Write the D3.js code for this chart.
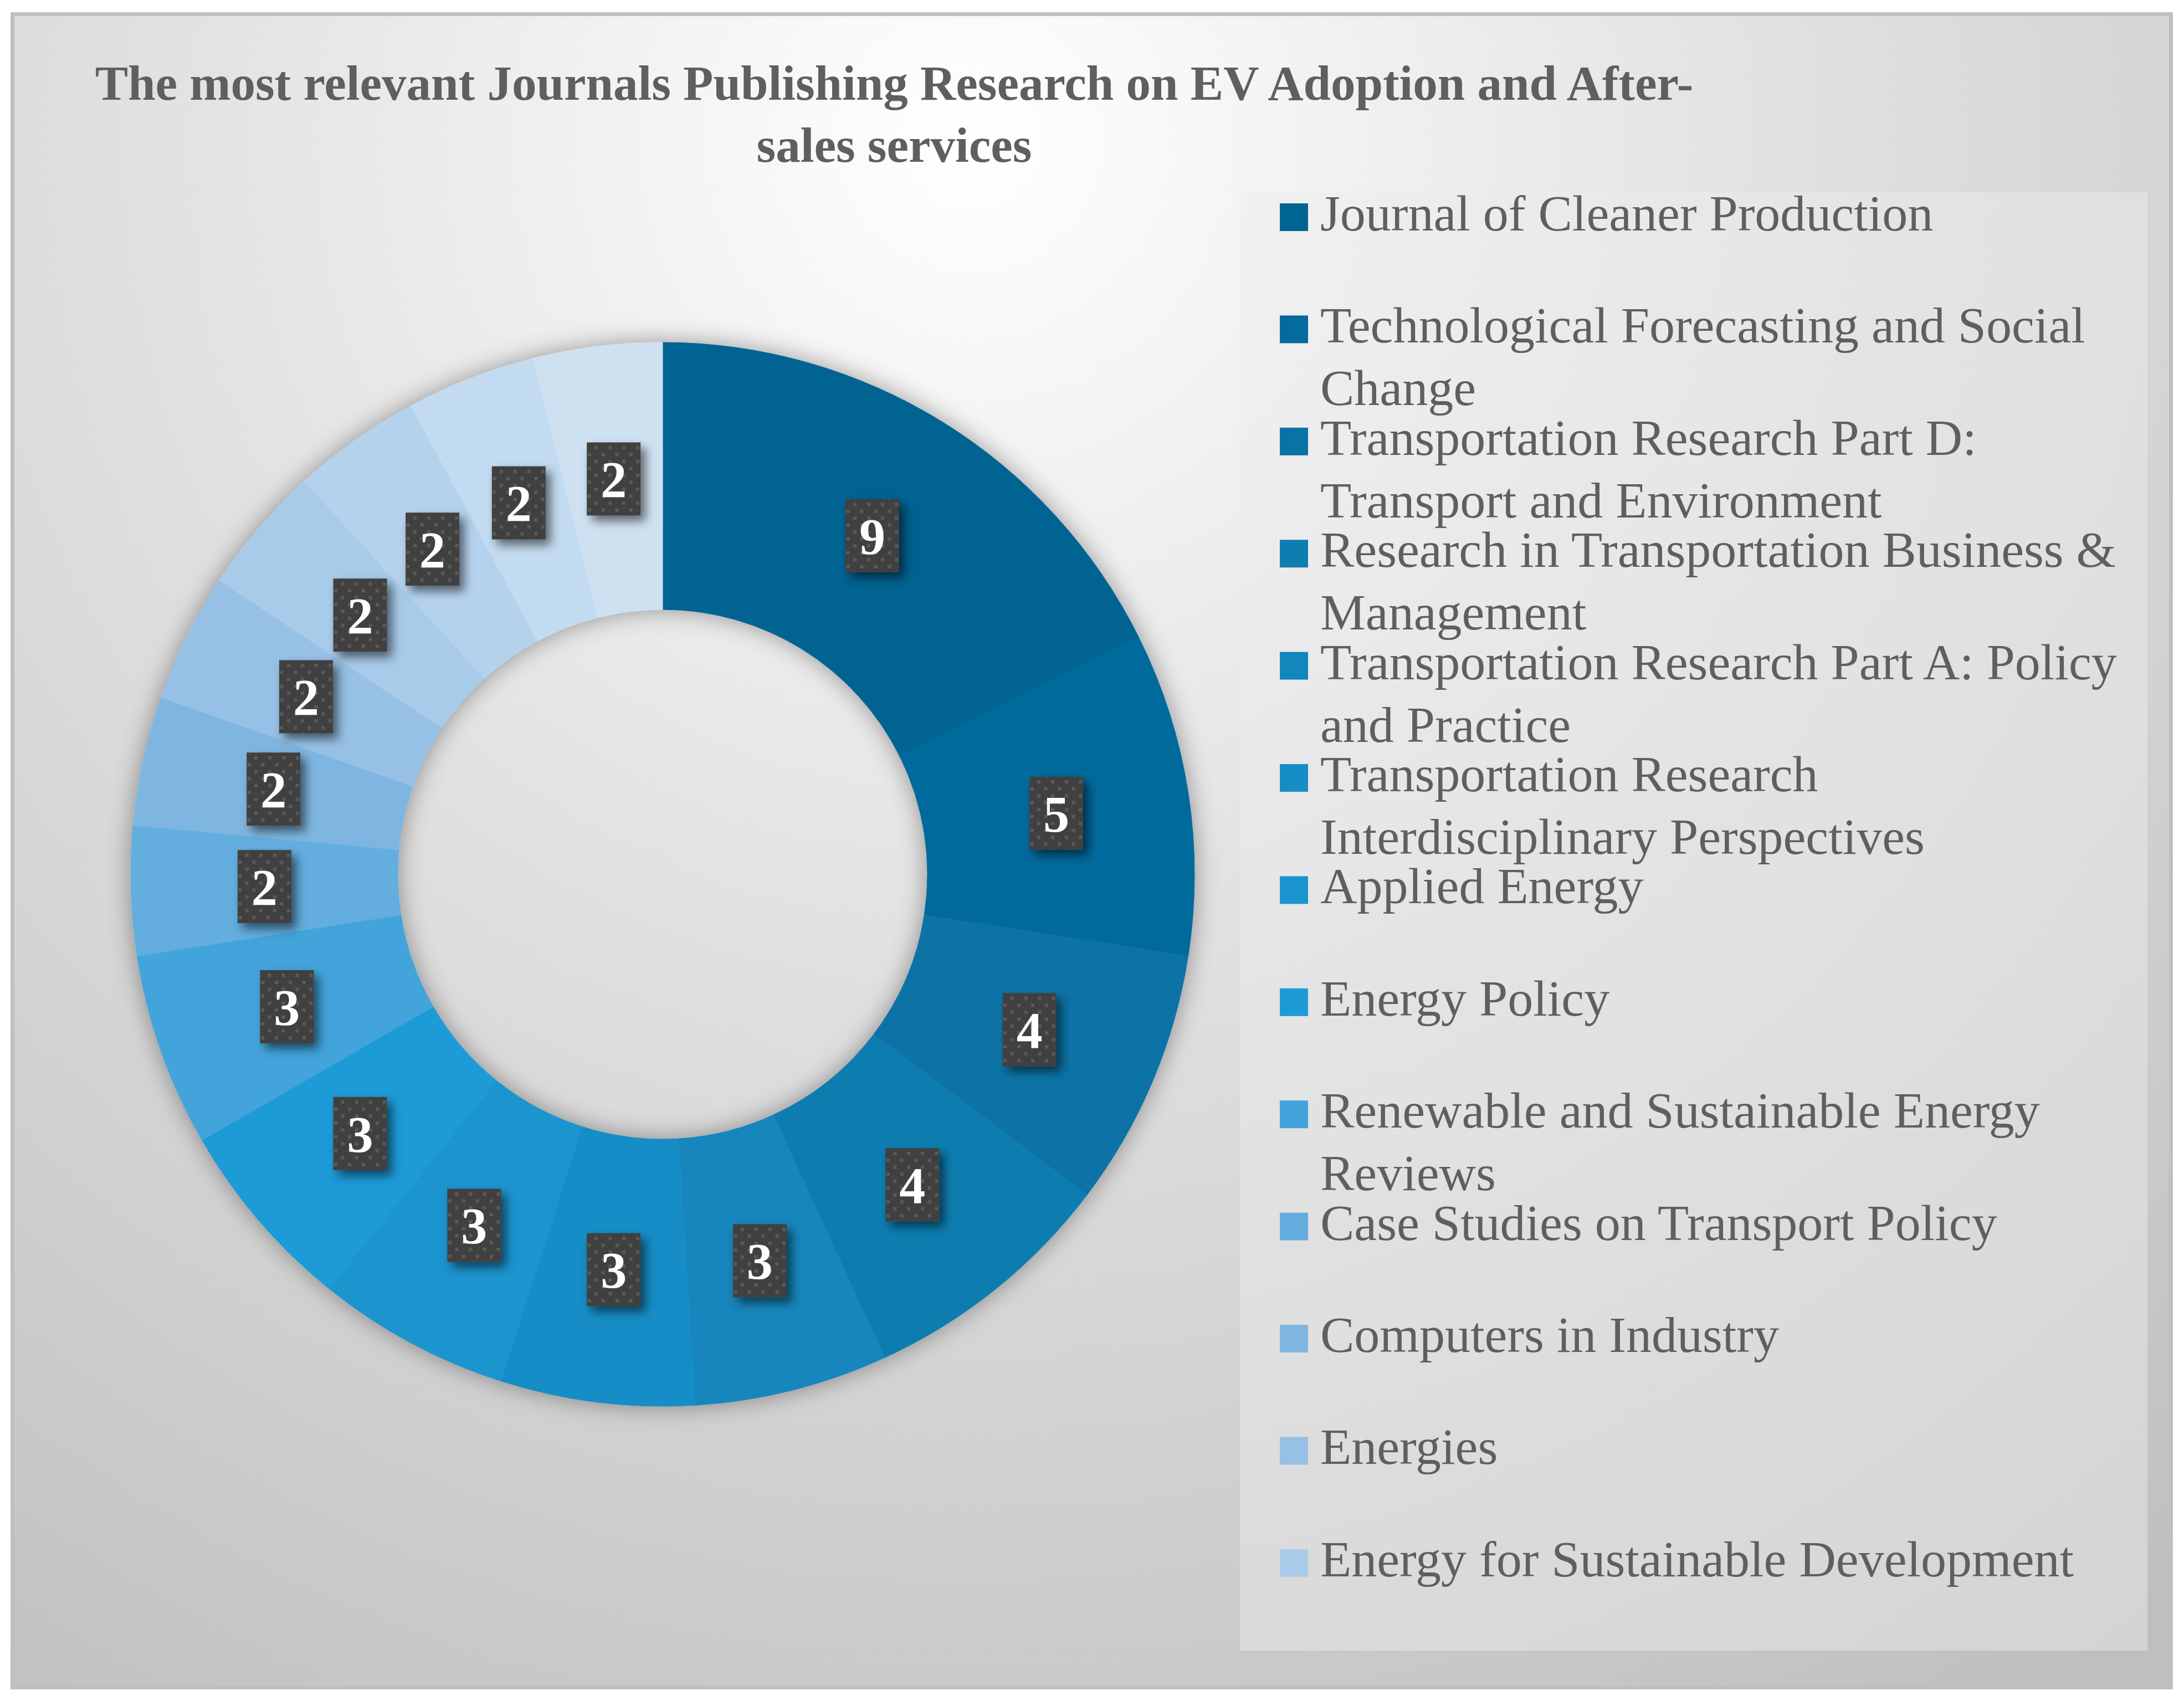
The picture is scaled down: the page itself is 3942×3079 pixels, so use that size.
<!DOCTYPE html>
<html>
<head>
<meta charset="utf-8">
<script src="https://cdn.jsdelivr.net/npm/d3@7"></script>
<style>
  html, body { margin: 0; padding: 0; background: #ffffff; }
  svg { display: block; }
</style>
</head>
<body>
<div id="chart"></div>
<script>
// journals, in the order they appear in the donut (clockwise from 12 o'clock)
// the source legend is cut off after 13 entries, so the last three slices have no name shown
const categories = [
  "Journal of Cleaner Production",
  "Technological Forecasting and Social Change",
  "Transportation Research Part D: Transport and Environment",
  "Research in Transportation Business & Management",
  "Transportation Research Part A: Policy and Practice",
  "Transportation Research Interdisciplinary Perspectives",
  "Applied Energy",
  "Energy Policy",
  "Renewable and Sustainable Energy Reviews",
  "Case Studies on Transport Policy",
  "Computers in Industry",
  "Energies",
  "Energy for Sustainable Development"
]
const values = [9, 5, 4, 4, 3, 3, 3, 3, 3, 2, 2, 2, 2, 2, 2, 2]
const colors = [
  "#006491", "#056a9c", "#0a73a6", "#107db0", "#1386bc", "#178dc6",
  "#1a94ce", "#1e9bd7", "#42a4db", "#63aedf", "#7eb6e1", "#96c0e5",
  "#a8cbea", "#b5d2ec", "#c3dbf0", "#cfe1f1"
]
const titleLines = [
  "The most relevant Journals Publishing Research on EV Adoption and After-",
  "sales services"
]

const WIDTH = 3942
const HEIGHT = 3079
const FONT = "'Liberation Serif', 'DejaVu Serif', serif"
const TEXT_COLOR = "#5f5f5f"

const svg = d3.select("#chart").append("svg")
  .attr("width", WIDTH)
  .attr("height", HEIGHT)

const defs = svg.append("defs")

const bg = defs.append("radialGradient")
  .attr("id", "bg")
  .attr("gradientUnits", "userSpaceOnUse")
  .attr("cx", 1750).attr("cy", 250).attr("r", 3400)
bg.append("stop").attr("offset", 0).attr("stop-color", "#ffffff")
bg.append("stop").attr("offset", 0.45).attr("stop-color", "#e0e0e0")
bg.append("stop").attr("offset", 1).attr("stop-color", "#bfbfbf")

const ringShadow = defs.append("filter")
  .attr("id", "ringShadow")
  .attr("x", "-20%").attr("y", "-20%").attr("width", "140%").attr("height", "140%")
ringShadow.append("feDropShadow")
  .attr("dx", 0).attr("dy", 0)
  .attr("stdDeviation", 22)
  .attr("flood-color", "#000")
  .attr("flood-opacity", 0.38)

const boxShadow = defs.append("filter")
  .attr("id", "boxShadow")
  .attr("x", "-50%").attr("y", "-50%").attr("width", "200%").attr("height", "200%")
boxShadow.append("feDropShadow")
  .attr("dx", 9).attr("dy", 10)
  .attr("stdDeviation", 9)
  .attr("flood-color", "#000")
  .attr("flood-opacity", 0.55)

const dots = defs.append("pattern")
  .attr("id", "dots")
  .attr("patternUnits", "userSpaceOnUse")
  .attr("width", 25).attr("height", 25)
dots.append("rect").attr("width", 25).attr("height", 25).attr("fill", "#404040")
dots.append("rect").attr("x", 3).attr("y", 3).attr("width", 6).attr("height", 6).attr("fill", "#5a5a5a")
dots.append("rect").attr("x", 15.5).attr("y", 15.5).attr("width", 6).attr("height", 6).attr("fill", "#5a5a5a")

// chart area + frame
svg.append("rect")
  .attr("x", 22.5).attr("y", 25.5)
  .attr("width", 3896).attr("height", 3020)
  .attr("fill", "url(#bg)")
  .attr("stroke", "#bfbfbf")
  .attr("stroke-width", 7)

// title
const title = svg.append("text")
  .attr("x", 1614)
  .attr("y", 180)
  .attr("text-anchor", "middle")
  .attr("font-family", FONT)
  .attr("font-weight", "bold")
  .attr("font-size", 89)
  .attr("fill", TEXT_COLOR)
title.selectAll("tspan")
  .data(titleLines)
  .join("tspan")
    .attr("x", 1614)
    .attr("dy", (d, i) => i === 0 ? 0 : 112)
    .text(d => d)

// donut
const CX = 1196, CY = 1578
const OUTER = 960, INNER = 478

const slices = values.map((v, i) => ({ name: categories[i] || null, value: v, color: colors[i] }))

const pie = d3.pie().sort(null).value(d => d.value)
const arc = d3.arc().innerRadius(INNER).outerRadius(OUTER)
const labelArc = d3.arc().innerRadius(INNER).outerRadius(OUTER)

const g = svg.append("g")
  .attr("transform", `translate(${CX}, ${CY})`)

g.append("g")
  .attr("filter", "url(#ringShadow)")
  .selectAll("path")
  .data(pie(slices))
  .join("path")
    .attr("d", arc)
    .attr("fill", d => d.data.color)
    .attr("stroke", d => d.data.color)
    .attr("stroke-width", 1)

const BOX_W = 97, BOX_H = 132
const labels = g.selectAll("g.label")
  .data(pie(slices))
  .join("g")
    .attr("class", "label")
    .attr("transform", d => `translate(${labelArc.centroid(d)})`)

labels.append("rect")
  .attr("x", -BOX_W / 2).attr("y", -BOX_H / 2)
  .attr("width", BOX_W).attr("height", BOX_H)
  .attr("fill", "url(#dots)")
  .attr("filter", "url(#boxShadow)")

labels.append("text")
  .attr("text-anchor", "middle")
  .attr("dy", "0.35em")
  .attr("font-family", FONT)
  .attr("font-weight", "bold")
  .attr("font-size", 94)
  .attr("fill", "#ffffff")
  .text(d => d.value)

// legend
const LEG_X = 2238, LEG_Y = 347, LEG_W = 1638, LEG_H = 2632
svg.append("rect")
  .attr("x", LEG_X).attr("y", LEG_Y)
  .attr("width", LEG_W).attr("height", LEG_H)
  .attr("fill", "#ebebeb")
  .attr("fill-opacity", 0.47)

const legendY = d3.scalePoint()
  .domain(categories)
  .range([392, 392 + 202.4 * (categories.length - 1)])

const LEG_FONT = 92
const TEXT_MAX = 1470
const measurer = svg.append("text")
  .attr("font-family", FONT)
  .attr("font-size", LEG_FONT)
  .attr("visibility", "hidden")
function wrap(str) {
  const words = str.split(" ")
  const lines = []
  let line = ""
  words.forEach(w => {
    const test = line ? line + " " + w : w
    measurer.text(test)
    if (line && measurer.node().getComputedTextLength() > TEXT_MAX) {
      lines.push(line)
      line = w
    } else {
      line = test
    }
  })
  if (line) lines.push(line)
  return lines
}

const items = svg.append("g").selectAll("g")
  .data(categories)
  .join("g")
    .attr("transform", d => `translate(0, ${legendY(d)})`)

items.append("rect")
  .attr("x", 2310).attr("y", -25)
  .attr("width", 51).attr("height", 50)
  .attr("fill", (d, i) => colors[i])

items.append("text")
  .attr("x", 2383)
  .attr("y", 24)
  .attr("font-family", FONT)
  .attr("font-size", LEG_FONT)
  .attr("fill", TEXT_COLOR)
  .selectAll("tspan")
  .data(d => wrap(d))
  .join("tspan")
    .attr("x", 2383)
    .attr("dy", (d, i) => i === 0 ? 0 : 113)
    .text(d => d)

measurer.remove()
</script>
</body>
</html>
